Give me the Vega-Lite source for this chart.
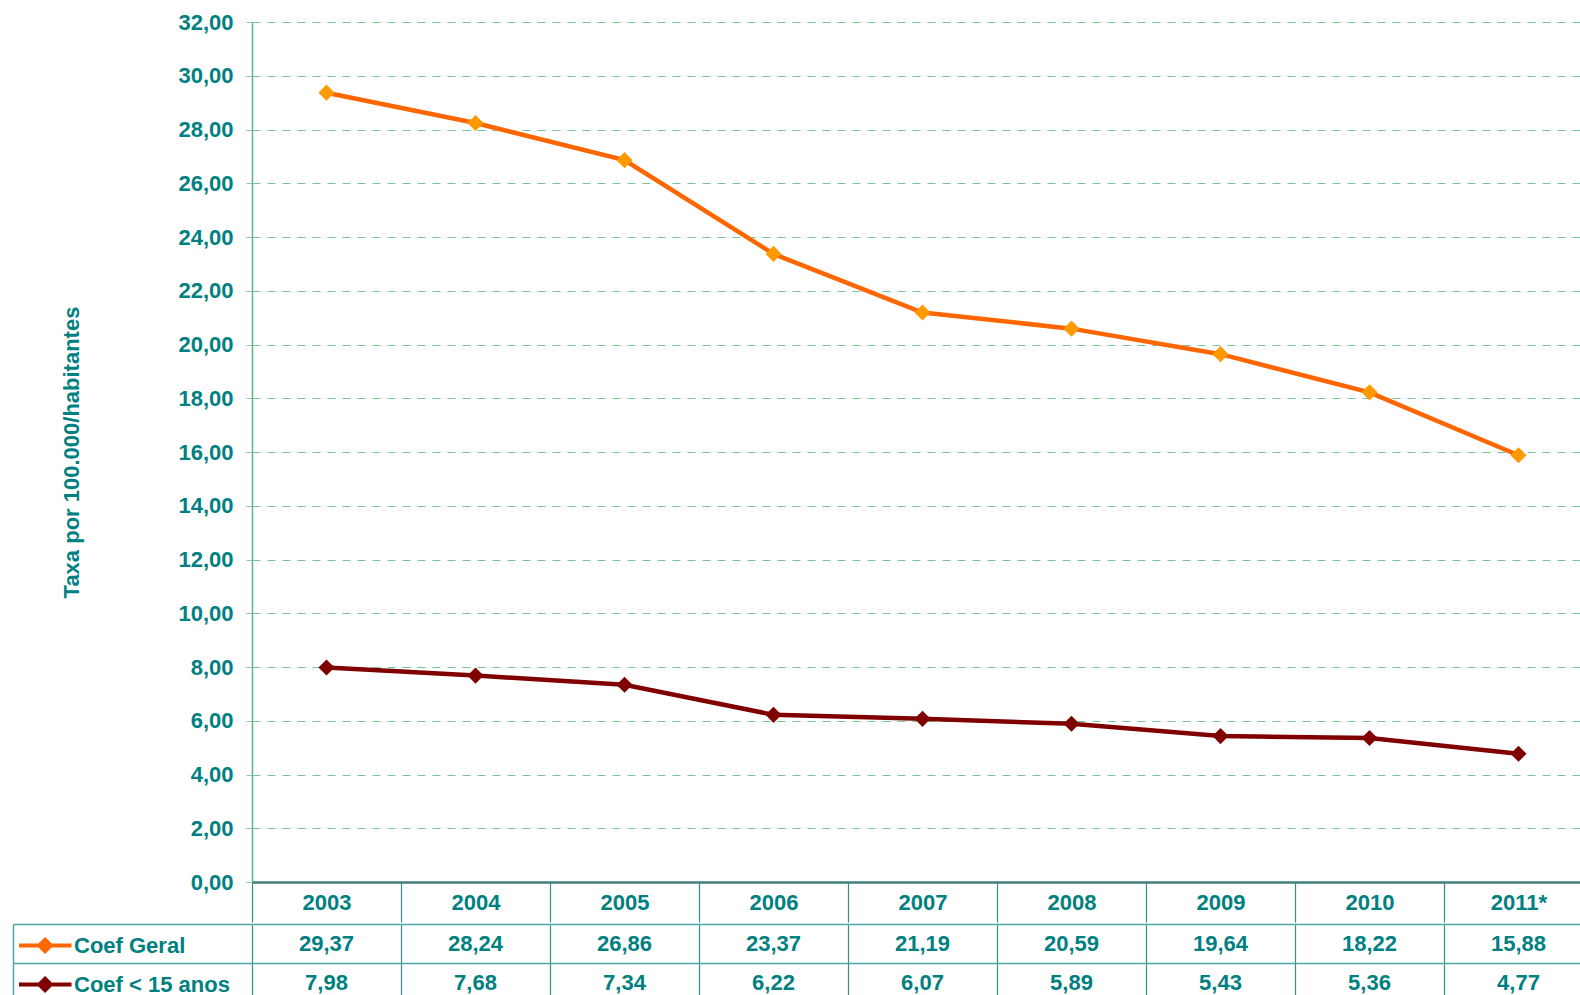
{
  "$schema": "https://vega.github.io/schema/vega-lite/v6.json",
  "background": "white",
  "padding": {"left": 12, "top": 11, "right": 0, "bottom": 0},
  "config": {
    "locale": {"number": {"decimal": ",", "thousands": ".", "grouping": [3], "currency": ["R$ ", ""]}},
    "view": {"stroke": null},
    "font": "Liberation Sans"
  },
  "datasets": {
    "d": [
      {"year": "2003", "series": "Coef Geral", "value": 29.37},
      {"year": "2004", "series": "Coef Geral", "value": 28.24},
      {"year": "2005", "series": "Coef Geral", "value": 26.86},
      {"year": "2006", "series": "Coef Geral", "value": 23.37},
      {"year": "2007", "series": "Coef Geral", "value": 21.19},
      {"year": "2008", "series": "Coef Geral", "value": 20.59},
      {"year": "2009", "series": "Coef Geral", "value": 19.64},
      {"year": "2010", "series": "Coef Geral", "value": 18.22},
      {"year": "2011*", "series": "Coef Geral", "value": 15.88},
      {"year": "2003", "series": "Coef  < 15 anos", "value": 7.98},
      {"year": "2004", "series": "Coef  < 15 anos", "value": 7.68},
      {"year": "2005", "series": "Coef  < 15 anos", "value": 7.34},
      {"year": "2006", "series": "Coef  < 15 anos", "value": 6.22},
      {"year": "2007", "series": "Coef  < 15 anos", "value": 6.07},
      {"year": "2008", "series": "Coef  < 15 anos", "value": 5.89},
      {"year": "2009", "series": "Coef  < 15 anos", "value": 5.43},
      {"year": "2010", "series": "Coef  < 15 anos", "value": 5.36},
      {"year": "2011*", "series": "Coef  < 15 anos", "value": 4.77}
    ]
  },
  "spacing": 0,
  "resolve": {
    "scale": {"x": "independent", "y": "independent", "fill": "independent", "stroke": "independent"},
    "axis": {"x": "independent", "y": "independent"},
    "legend": {"fill": "independent", "stroke": "independent"}
  },
  "vconcat": [
    {
      "width": 1341,
      "height": 860,
      "data": {"name": "d"},
      "encoding": {
        "x": {
          "field": "year", "type": "nominal", "sort": null, "bandPosition": 0.5,
          "scale": {"type": "band", "paddingInner": 0, "paddingOuter": 0},
          "axis": {
            "title": null, "labelAngle": 0, "labelFontSize": 22, "labelFontWeight": "bold",
            "labelColor": "#008080", "labelBaseline": "middle", "labelPadding": -20,
            "tickBand": "extent", "tickSize": 40, "tickColor": "#3A8C8C", "tickWidth": 1.2,
            "domainColor": "#3F7F7F", "domainWidth": 2.5, "grid": false
          }
        },
        "y": {
          "field": "value", "type": "quantitative",
          "scale": {"domain": [0, 32], "nice": false},
          "axis": {
            "title": "Taxa por 100.000/habitantes",
            "values": [0, 2, 4, 6, 8, 10, 12, 14, 16, 18, 20, 22, 24, 26, 28, 30, 32],
            "format": ".2f", "labelFontSize": 22, "labelFontWeight": "bold", "labelColor": "#008080",
            "labelPadding": 13, "tickSize": 6, "tickColor": "#88CCAA", "domainColor": "#66B088",
            "domainWidth": 1.5, "grid": true, "gridColor": "#77C49C", "gridDash": [8, 7], "gridWidth": 1.2,
            "titleFontSize": 22, "titleFontWeight": "bold", "titleColor": "#008080", "titlePadding": 94
          }
        }
      },
      "layer": [
        {
          "mark": {"type": "line", "strokeWidth": 4.5},
          "encoding": {
            "stroke": {"field": "series", "type": "nominal",
              "scale": {"domain": ["Coef Geral", "Coef  < 15 anos"], "range": ["#FF6600", "#800000"]},
              "legend": null}
          }
        },
        {
          "mark": {"type": "point", "shape": "diamond", "filled": true, "size": 260, "opacity": 1, "strokeWidth": 0},
          "encoding": {
            "fill": {"field": "series", "type": "nominal",
              "scale": {"domain": ["Coef Geral", "Coef  < 15 anos"], "range": ["#FF9900", "#800000"]},
              "legend": null}
          }
        }
      ]
    },
    {
      "width": 1341,
      "height": 78,
      "data": {"name": "d"},
      "layer": [
        {
          "mark": {"type": "text", "fontSize": 22, "fontWeight": "bold", "color": "#008080", "baseline": "middle"},
          "encoding": {
            "x": {
              "field": "year", "type": "nominal", "sort": null, "bandPosition": 0.5,
              "scale": {"type": "band", "paddingInner": 0, "paddingOuter": 0},
              "axis": {"title": null, "labels": false, "ticks": false, "domain": false, "grid": true,
                "gridColor": "#3A8C8C", "gridWidth": 1.2, "tickBand": "extent"}
            },
            "y": {
              "field": "series", "type": "nominal", "sort": ["Coef Geral", "Coef  < 15 anos"], "bandPosition": 0.5,
              "scale": {"type": "band", "paddingInner": 0, "paddingOuter": 0},
              "axis": {"title": null, "orient": "left", "offset": 239, "tickSize": -239, "tickBand": "extent",
                "ticks": true, "labels": false, "domain": true, "domainColor": "#4DA6A6", "domainWidth": 1.5,
                "tickColor": "#4DA6A6", "tickWidth": 1.5, "grid": true, "gridColor": "#4DA6A6", "gridWidth": 1.5}
            },
            "text": {"field": "value", "type": "quantitative", "format": ".2f"}
          }
        },
        {
          "mark": {"type": "point", "filled": true, "opacity": 0},
          "encoding": {
            "fill": {"field": "series", "type": "nominal",
              "scale": {"domain": ["Coef Geral", "Coef  < 15 anos"], "range": ["#FF9900", "#800000"]},
              "legend": {"orient": "none", "legendX": -235, "legendY": 9, "title": null,
                "symbolType": "M-1,0L4,0M1.48,-0.55L2.03,0L1.48,0.55L0.93,0Z", "symbolSize": 441,
                "symbolStrokeWidth": 4, "symbolOpacity": 1, "labelFontSize": 22, "labelFontWeight": "bold",
                "labelColor": "#008080", "labelOffset": 32, "rowPadding": 10, "padding": 0, "labelLimit": 400}},
            "stroke": {"field": "series", "type": "nominal",
              "scale": {"domain": ["Coef Geral", "Coef  < 15 anos"], "range": ["#FF6600", "#800000"]},
              "legend": {"orient": "none", "legendX": -235, "legendY": 9, "title": null,
                "symbolType": "M-1,0L4,0M1.48,-0.55L2.03,0L1.48,0.55L0.93,0Z", "symbolSize": 441,
                "symbolStrokeWidth": 4, "symbolOpacity": 1, "labelFontSize": 22, "labelFontWeight": "bold",
                "labelColor": "#008080", "labelOffset": 32, "rowPadding": 10, "padding": 0, "labelLimit": 400}}
          }
        }
      ]
    }
  ]
}
